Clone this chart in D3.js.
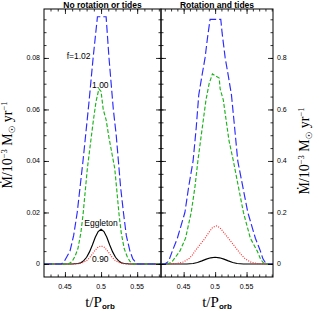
<!DOCTYPE html>
<html>
<head>
<meta charset="utf-8">
<script src="https://cdn.jsdelivr.net/npm/d3@7"></script>
<style>
  body { margin: 0; background: #fff; }
  .tick-lbl { font-family: "Liberation Sans", Arial, sans-serif; font-size: 7px; }
  .title { font-family: "Liberation Sans", Arial, sans-serif; font-size: 8.5px; font-weight: bold; }
  .note { font-family: "Liberation Sans", Arial, sans-serif; font-size: 8.5px; }
  .ylab, .xlab { font-family: "Liberation Serif", "Times New Roman", serif; }
</style>
</head>
<body>
<div id="graph"></div>
<script>
/*
    Data, (t/Porb, Mdot) pairs
*/
// left panel: no rotation or tides
var noRotF102 = [[0.421,0],[0.445,0],[0.449,0.001],[0.453,0.003],[0.457,0.005],[0.462,0.011],[0.467,0.02],
    [0.471,0.03],[0.475,0.04],[0.479,0.051],[0.483,0.062],[0.486,0.071],[0.489,0.08],[0.492,0.088],
    [0.495,0.096],[0.507,0.096],[0.509,0.088],[0.511,0.08],[0.514,0.07],[0.517,0.06],[0.521,0.05],
    [0.524,0.04],[0.527,0.03],[0.531,0.02],[0.535,0.011],[0.54,0.005],[0.544,0.002],[0.55,0],[0.583,0]]
var noRotF100 = [[0.421,0],[0.455,0],[0.46,0.001],[0.464,0.003],[0.468,0.006],[0.472,0.012],[0.475,0.019],
    [0.478,0.028],[0.481,0.037],[0.485,0.046],[0.489,0.055],[0.493,0.063],[0.497,0.068],[0.5,0.067],
    [0.503,0.06],[0.507,0.056],[0.511,0.049],[0.515,0.043],[0.519,0.037],[0.522,0.028],[0.525,0.019],
    [0.528,0.012],[0.532,0.006],[0.536,0.003],[0.54,0.001],[0.544,0],[0.583,0]]
var noRotEgg = [[0.421,0],[0.46,0],[0.464,0.0001],[0.468,0.0002],[0.472,0.0005],[0.476,0.0013],[0.48,0.0026],
    [0.484,0.0047],[0.488,0.0074],[0.492,0.0104],[0.496,0.0126],[0.5,0.0135],[0.504,0.0126],[0.508,0.0104],
    [0.512,0.0074],[0.516,0.0047],[0.52,0.0026],[0.524,0.0013],[0.528,0.0005],[0.532,0.0002],[0.536,0.0001],
    [0.54,0],[0.583,0]]
var noRotF090 = [[0.421,0],[0.464,0],[0.468,0.0001],[0.472,0.0003],[0.476,0.0007],[0.48,0.0013],[0.484,0.0024],
    [0.488,0.0039],[0.492,0.0054],[0.496,0.0066],[0.5,0.007],[0.504,0.0066],[0.508,0.0054],[0.512,0.0039],
    [0.516,0.0024],[0.52,0.0013],[0.524,0.0007],[0.528,0.0003],[0.532,0.0001],[0.536,0],[0.583,0]]

// right panel: rotation and tides
var rotF102 = [[0.414,0],[0.42,0],[0.426,0.01],[0.432,0.05],[0.44,0.1],[0.446,0.15],[0.452,0.2],[0.458,0.3],
    [0.465,0.4],[0.47,0.53],[0.474,0.656],[0.479,0.73],[0.484,0.8],[0.488,0.88],[0.492,0.95],[0.509,0.95],
    [0.511,0.9],[0.516,0.8],[0.521,0.73],[0.526,0.656],[0.531,0.53],[0.536,0.4],[0.544,0.3],[0.552,0.2],
    [0.558,0.15],[0.564,0.1],[0.572,0.05],[0.576,0.02],[0.58,0.005],[0.585,0],[0.592,0]]
var rotF100 = [[0.414,0],[0.425,0],[0.432,0.01],[0.438,0.03],[0.444,0.05],[0.453,0.1],[0.462,0.2],[0.468,0.3],
    [0.4726,0.4],[0.478,0.5],[0.4855,0.637],[0.4905,0.7],[0.4957,0.738],[0.5065,0.722],[0.508,0.68],
    [0.513,0.637],[0.518,0.55],[0.522,0.48],[0.529,0.4],[0.537,0.3],[0.545,0.2],[0.556,0.1],[0.567,0.05],
    [0.572,0.02],[0.578,0],[0.592,0]]
var rotEgg = [[0.414,0],[0.455,0],[0.465,0.002],[0.472,0.006],[0.479,0.012],[0.486,0.019],[0.493,0.024],
    [0.5,0.026],[0.507,0.024],[0.514,0.019],[0.521,0.012],[0.528,0.006],[0.535,0.002],[0.545,0],[0.592,0]]
var rotF090 = [[0.414,0],[0.42,0],[0.44,0.002],[0.45,0.008],[0.458,0.02],[0.464,0.035],[0.468,0.05],
    [0.476,0.075],[0.484,0.1],[0.49,0.122],[0.496,0.142],[0.502,0.148],[0.508,0.14],[0.514,0.122],
    [0.521,0.1],[0.529,0.075],[0.537,0.05],[0.542,0.035],[0.548,0.02],[0.556,0.008],[0.566,0.002],
    [0.58,0],[0.592,0]]

var xMajor = [0.45, 0.5, 0.55]
var yMajorLeft = [0, 0.02, 0.04, 0.06, 0.08]
var yMajorRight = [0, 0.2, 0.4, 0.6, 0.8]

var W = 319, H = 311
var svg = d3.select("#graph").append("svg")
    .attr("width", W).attr("height", H)

var styles = {
    f102: {color: "#2a2aff", dash: "8,3"},
    f100: {color: "#1db31d", dash: "4,2"},
    egg:  {color: "#000000", dash: null},
    f090: {color: "#ff2a2a", dash: "1,1.4"}
}

function range(a, b, step) {
    var out = []
    for (var v = a; v <= b + 1e-9; v += step) out.push(+v.toFixed(4))
    return out
}

function panel(o) {
    var x = d3.scaleLinear().domain(o.xDom).range([o.x0, o.x1])
    var y = d3.scaleLinear().domain(o.yDom).range([277, 9])
    var g = svg.append("g")

    // curves (drawn first so frame sits on top)
    var line = d3.line().x(function(d) { return x(d[0]) }).y(function(d) { return y(d[1]) })
    o.series.forEach(function(s) {
        var st = styles[s.key]
        g.append("path")
            .attr("d", line(s.data))
            .attr("fill", "none")
            .attr("stroke", st.color)
            .attr("stroke-width", 1.15)
            .attr("stroke-dasharray", st.dash)
    })

    // ticks on all four sides, pointing inward
    var xMinor = range(o.xMinor[0], o.xMinor[1], 0.01)
    var yMinor = range(0, o.yDom[1], o.yStep / 4)
    function ax(axisFn, scale, vals, size, tr) {
        g.append("g")
            .attr("transform", tr)
            .call(axisFn(scale).tickValues(vals).tickSize(size).tickSizeOuter(0).tickFormat(""))
            .call(function(s) { s.select(".domain").remove() })
            .selectAll("line").attr("stroke", "#000").attr("stroke-width", 0.8)
    }
    ax(d3.axisBottom, x, xMinor, -2.5, "translate(0,277)")
    ax(d3.axisBottom, x, xMajor, -5, "translate(0,277)")
    ax(d3.axisTop, x, xMinor, -2.5, "translate(0,9)")
    ax(d3.axisTop, x, xMajor, -5, "translate(0,9)")
    ax(d3.axisLeft, y, yMinor, -2.5, "translate(" + o.x0 + ",0)")
    ax(d3.axisLeft, y, o.yMajor, -5, "translate(" + o.x0 + ",0)")
    ax(d3.axisRight, y, yMinor, -2.5, "translate(" + o.x1 + ",0)")
    ax(d3.axisRight, y, o.yMajor, -5, "translate(" + o.x1 + ",0)")

    // frame
    g.append("rect")
        .attr("x", o.x0).attr("y", 9)
        .attr("width", o.x1 - o.x0).attr("height", 268)
        .attr("fill", "none").attr("stroke", "#000").attr("stroke-width", 1)

    // tick labels
    g.selectAll(".xl").data(xMajor).enter().append("text")
        .attr("class", "tick-lbl")
        .attr("x", function(d) { return x(d) })
        .attr("y", 289)
        .attr("text-anchor", "middle")
        .text(function(d) { return d })
    g.selectAll(".yl").data(o.yMajor).enter().append("text")
        .attr("class", "tick-lbl")
        .attr("x", o.labelSide == "left" ? o.x0 - 4 : o.x1 + 4)
        .attr("y", function(d) { return y(d) + 2.5 })
        .attr("text-anchor", o.labelSide == "left" ? "end" : "start")
        .text(function(d) { return d })

    // title
    g.append("text").attr("class", "title")
        .attr("x", (o.x0 + o.x1) / 2).attr("y", 7.5)
        .attr("text-anchor", "middle")
        .text(o.title)

    // x label
    var xl = g.append("text").attr("class", "xlab")
        .attr("x", o.xLabX).attr("y", 307)
        .attr("text-anchor", "middle")
    xl.append("tspan").attr("font-size", 15).text("t/P")
    xl.append("tspan").attr("font-size", 8).attr("font-weight", "bold")
        .attr("font-family", "Liberation Sans, Arial, sans-serif")
        .attr("dy", 2).text("orb")

    // y label
    var yl = g.append("text").attr("class", "ylab")
        .attr("transform", "translate(" + o.yLabX + "," + o.yLabY + ") rotate(-90)")
        .attr("text-anchor", "middle")
        .attr("font-size", 14)
    yl.append("tspan").text("Ṁ/10")
    yl.append("tspan").attr("font-size", 8.5).attr("dy", -5).text("−3")
    yl.append("tspan").attr("dy", 5).text(" M")
    yl.append("tspan").attr("font-size", 8.5).attr("dy", 3)
        .attr("font-family", "DejaVu Sans, sans-serif").text("☉")
    yl.append("tspan").attr("dy", -3).text(" yr")
    yl.append("tspan").attr("font-size", 8.5).attr("dy", -5).text("−1")

    return {x: x, y: y, g: g}
}

var left = panel({
    xDom: [0.421, 0.583], x0: 44, x1: 161,
    yDom: [-0.00505, 0.099], yStep: 0.02, yMajor: yMajorLeft,
    xMinor: [0.43, 0.58], labelSide: "left",
    title: "No rotation or tides", xLabX: 100, yLabX: 12, yLabY: 145,
    series: [{key: "egg", data: noRotEgg}, {key: "f090", data: noRotF090},
             {key: "f100", data: noRotF100}, {key: "f102", data: noRotF102}]
})

var right = panel({
    xDom: [0.414, 0.592], x0: 161, x1: 273,
    yDom: [-0.0505, 0.99], yStep: 0.2, yMajor: yMajorRight,
    xMinor: [0.42, 0.59], labelSide: "right",
    title: "Rotation and tides", xLabX: 217, yLabX: 309, yLabY: 151,
    series: [{key: "egg", data: rotEgg}, {key: "f090", data: rotF090},
             {key: "f100", data: rotF100}, {key: "f102", data: rotF102}]
})

// curve annotations in left panel
var notes = [
    {t: "f=1.02", x: 0.4855, y: 0.0795, anchor: "end"},
    {t: "1.00", x: 0.499, y: 0.0685, anchor: "middle"},
    {t: "Eggleton", x: 0.5, y: 0.0148, anchor: "middle"},
    {t: "0.90", x: 0.499, y: 0.0008, anchor: "middle"}
]
left.g.selectAll(".note").data(notes).enter().append("text")
    .attr("class", "note")
    .attr("x", function(d) { return left.x(d.x) })
    .attr("y", function(d) { return left.y(d.y) })
    .attr("text-anchor", function(d) { return d.anchor })
    .text(function(d) { return d.t })
</script>
</body>
</html>
